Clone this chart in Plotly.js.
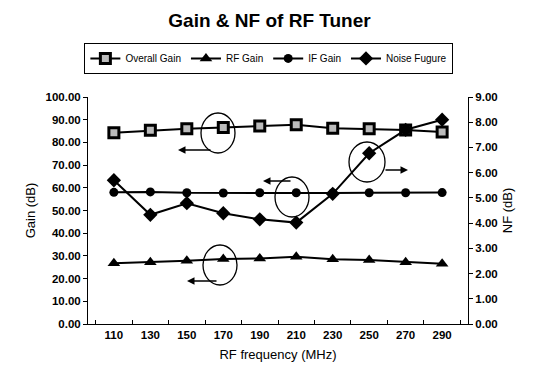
<!DOCTYPE html>
<html><head><meta charset="utf-8">
<script src="https://cdn.plot.ly/plotly-3.0.1.min.js"></script>
<style>html,body{margin:0;padding:0;background:#fff}#c{width:539px;height:378px}</style>
</head><body><div id="c"></div>
<script>
const freqs = ['110','130','150','170','190','210','230','250','270','290'];
const overallGain = [84.3, 85.3, 86.0, 86.6, 87.2, 87.8, 86.2, 86.0, 85.5, 84.6];
const rfGain = [26.8, 27.2, 27.9, 28.6, 28.9, 29.6, 28.5, 28.2, 27.2, 26.5];
const ifGain = [58.0, 58.2, 57.8, 57.7, 57.8, 57.8, 57.7, 57.8, 57.8, 57.9];
const noiseFigure = [5.70, 4.33, 4.79, 4.39, 4.15, 4.02, 5.16, 6.77, 7.70, 8.10];
const leftTicks = [0,10,20,30,40,50,60,70,80,90,100];
const rightTicks = [0,1,2,3,4,5,6,7,8,9];

const lineStyle = {color:'#000', width:2};
const traces = [
  {x:freqs, y:overallGain, name:'Overall Gain', mode:'lines+markers', line:lineStyle,
   marker:{symbol:'square', size:10, color:'#bbb', line:{color:'#000', width:3}}},
  {x:freqs, y:rfGain, name:'RF Gain', mode:'lines+markers', line:lineStyle,
   marker:{symbol:'triangle-up', size:11, color:'#000'}},
  {x:freqs, y:ifGain, name:'IF Gain', mode:'lines+markers', line:lineStyle,
   marker:{symbol:'circle', size:9, color:'#000'}},
  {x:freqs, y:noiseFigure, name:'Noise Fugure', mode:'lines+markers', line:lineStyle, yaxis:'y2',
   marker:{symbol:'diamond', size:11, color:'#000'}}
];

const ell = (cx, cy, rx, ry) => ({type:'circle', xref:'paper', yref:'paper',
  x0:(cx-rx-88)/380, x1:(cx+rx-88)/380, y0:(324-(cy+ry))/227, y1:(324-(cy-ry))/227,
  line:{color:'#000', width:1.3}});
const arrow = (x1, y1, x0, y0) => ({xref:'paper', yref:'paper', axref:'pixel', ayref:'pixel',
  x:(x0-88)/380, y:(324-y0)/227, ax:x1-x0, ay:y1-y0, showarrow:true, arrowhead:2, arrowsize:1,
  arrowwidth:1.5, arrowcolor:'#000', text:''});

const font = {family:'Arial, Liberation Sans, sans-serif', color:'#000'};
const layout = {
  width:539, height:378, paper_bgcolor:'#fff', plot_bgcolor:'#fff',
  margin:{l:88, r:71, t:97, b:54},
  title:{text:'<b>Gain & NF of RF Tuner</b>', font:{...font, size:19}, x:0.5, xanchor:'center', y:0.947, yanchor:'middle'},
  showlegend:true,
  legend:{orientation:'h', x:0.476, xanchor:'center', y:1.17, yanchor:'middle',
    bordercolor:'#000', borderwidth:1, font:{...font, size:10}, itemwidth:30, tracegroupgap:0,
    bgcolor:'#fff'},
  xaxis:{type:'category', showline:true, linecolor:'#000', linewidth:1, ticks:'inside', ticklen:4,
    tickson:'boundaries', tickcolor:'#000', showgrid:false, zeroline:false,
    tickfont:{...font, size:11.5, weight:'bold'},
    title:{text:'RF frequency (MHz)', font:{...font, size:13}, standoff:10}},
  yaxis:{range:[0,100], tickvals:leftTicks, tickformat:'.2f', showline:true, linecolor:'#000',
    ticks:'outside', ticklen:4, tickcolor:'#000', showgrid:false, zeroline:false,
    tickfont:{...font, size:11.5, weight:'bold'},
    title:{text:'Gain (dB)', font:{...font, size:13}, standoff:6}},
  yaxis2:{range:[0,9], tickvals:rightTicks, tickformat:'.2f', overlaying:'y', side:'right',
    showline:true, linecolor:'#000', ticks:'outside', ticklen:4, tickcolor:'#000', showgrid:false, zeroline:false,
    tickfont:{...font, size:11.5, weight:'bold'},
    title:{text:'NF (dB)', font:{...font, size:13}, standoff:6}},
  shapes:[ell(218,133,17,20), ell(292,197,17,20), ell(367,162,18,20), ell(220,265,17,20)],
  annotations:[arrow(212,150,178,150), arrow(292,181,263,181), arrow(384,170,408,170), arrow(218,281,187,281)]
};
Plotly.newPlot('c', traces, layout, {displayModeBar:false, staticPlot:true});
</script>
</body></html>
